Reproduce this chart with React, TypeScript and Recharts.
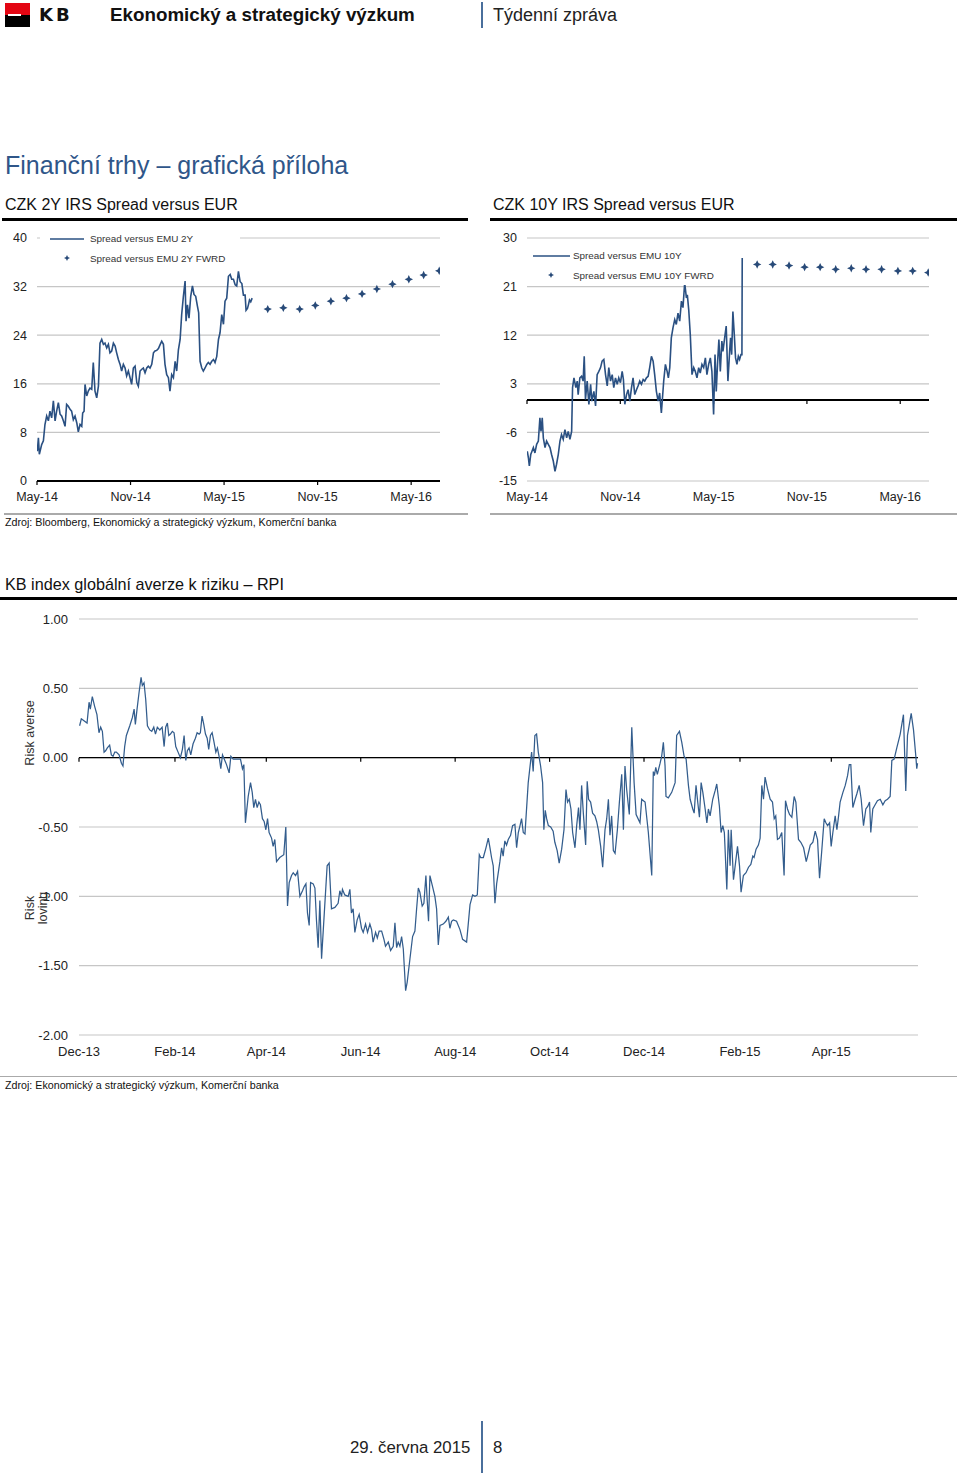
import React from 'react'
import { ComposedChart, Line, XAxis, YAxis, CartesianGrid, ReferenceLine } from 'recharts'

const FONT = '"Liberation Sans", Arial, sans-serif'
const LINE_BLUE = '#2a5082' // spread lines
const FWD_BLUE = '#284a78' // forward markers
const RPI_BLUE = '#335d8d'
const GRID = '#c6c6c6'
const TITLE_BLUE = '#2f5689'
const BAR_BLUE = '#4a6f9c'

// months since May-14
const spreadTicks = [0, 6, 12, 18, 24]
const spreadTickLabels = ['May-14', 'Nov-14', 'May-15', 'Nov-15', 'May-16']
const fwdMonths = [14.8, 15.8, 16.85, 17.85, 18.85, 19.85, 20.85, 21.8, 22.8, 23.85, 24.8, 25.8]

const spread2yTicks = [0, 8, 16, 24, 32, 40]
const spread2yFwd = [28.3, 28.5, 28.3, 28.9, 29.6, 30.1, 30.8, 31.6, 32.4, 33.2, 33.9, 34.6]
const spread2y: [number, number][] = [
  [0.02, 4.9], [0.09, 7.1], [0.15, 4.4], [0.3, 6.0], [0.41, 6.6], [0.51, 9.3], [0.62, 10.7], [0.73, 9.9],
  [0.83, 11.5], [0.94, 10.4], [1.05, 13.2], [1.16, 9.9], [1.26, 11.5], [1.37, 12.9], [1.48, 11.0], [1.58, 10.7],
  [1.69, 9.9], [1.8, 9.0], [1.9, 12.6], [2.01, 12.3], [2.12, 11.8], [2.22, 11.5], [2.33, 10.1], [2.44, 10.7],
  [2.55, 9.6], [2.65, 8.1], [2.76, 9.3], [2.87, 9.0], [2.93, 11.2], [3.02, 11.5], [3.08, 15.9], [3.19, 14.0],
  [3.29, 14.8], [3.4, 15.3], [3.51, 15.1], [3.61, 19.5], [3.72, 14.8], [3.83, 13.7], [3.94, 15.6], [4.04, 22.7],
  [4.15, 23.3], [4.26, 22.5], [4.36, 22.7], [4.47, 21.9], [4.58, 22.5], [4.68, 21.1], [4.79, 21.4], [4.9, 22.7],
  [5.01, 22.2], [5.11, 21.1], [5.22, 20.0], [5.33, 19.2], [5.43, 18.1], [5.54, 19.2], [5.65, 18.6], [5.75, 17.3],
  [5.86, 18.1], [5.97, 17.0], [6.07, 15.9], [6.18, 18.6], [6.29, 18.9], [6.4, 16.2], [6.5, 15.6], [6.61, 18.1],
  [6.72, 18.4], [6.82, 18.6], [6.93, 17.8], [7.04, 18.6], [7.14, 18.9], [7.25, 18.6], [7.36, 19.2], [7.47, 21.1],
  [7.57, 21.4], [7.68, 21.5], [7.79, 21.8], [7.89, 22.4], [8.0, 23.0], [8.11, 22.5], [8.21, 19.2], [8.32, 17.5],
  [8.43, 17.0], [8.53, 14.8], [8.64, 17.5], [8.75, 17.0], [8.86, 19.7], [8.96, 18.1], [9.07, 21.6], [9.18, 23.3],
  [9.28, 27.4], [9.39, 30.4], [9.5, 32.9], [9.56, 26.3], [9.65, 29.0], [9.75, 26.8], [9.86, 30.4], [9.97, 32.1],
  [10.07, 30.7], [10.18, 30.4], [10.29, 28.8], [10.37, 27.7], [10.46, 19.7], [10.57, 18.6], [10.67, 18.1], [10.78, 18.6],
  [10.89, 19.2], [10.99, 19.5], [11.1, 19.2], [11.21, 19.7], [11.32, 20.0], [11.42, 19.5], [11.53, 20.5], [11.64, 23.3],
  [11.74, 24.4], [11.85, 27.4], [11.96, 25.8], [12.06, 29.6], [12.17, 30.1], [12.28, 33.7], [12.39, 34.0], [12.49, 33.2],
  [12.6, 33.2], [12.71, 32.3], [12.81, 32.1], [12.92, 34.5], [13.03, 32.8], [13.14, 32.5], [13.24, 30.6], [13.35, 30.6],
  [13.41, 28.1], [13.5, 28.4], [13.56, 29.0], [13.63, 29.8], [13.71, 29.5], [13.8, 30.1],
]

const spread10yTicks = [-15, -6, 3, 12, 21, 30]
const spread10yFwd = [25.1, 25.1, 24.9, 24.6, 24.6, 24.2, 24.4, 24.2, 24.2, 23.9, 23.9, 23.6]
const spread10y: [number, number][] = [
  [0.02, -9.5], [0.09, -10.7], [0.15, -12.2], [0.24, -10.1], [0.32, -9.5], [0.41, -8.8], [0.51, -9.8], [0.62, -8.2],
  [0.73, -7.6], [0.83, -3.3], [0.9, -5.8], [0.98, -3.3], [1.05, -7.0], [1.16, -8.8], [1.26, -7.6], [1.37, -8.2],
  [1.48, -8.8], [1.58, -10.1], [1.69, -11.3], [1.8, -13.2], [1.9, -11.9], [2.01, -10.1], [2.12, -7.6], [2.22, -6.4],
  [2.33, -7.3], [2.44, -5.5], [2.55, -7.0], [2.65, -5.8], [2.76, -7.3], [2.87, -5.8], [2.93, 2.3], [3.02, 4.1],
  [3.08, 3.2], [3.14, 2.3], [3.23, 3.5], [3.29, 1.0], [3.4, 4.1], [3.51, 4.4], [3.61, 3.5], [3.68, 8.1],
  [3.76, 0.1], [3.87, 3.5], [3.98, -0.8], [4.09, 2.9], [4.17, -0.2], [4.3, 1.6], [4.41, -1.1], [4.51, 4.7],
  [4.62, 5.3], [4.73, 6.0], [4.83, 7.2], [4.94, 7.5], [5.05, 4.7], [5.16, 2.6], [5.26, 6.0], [5.37, 3.5],
  [5.48, 4.7], [5.58, 2.3], [5.69, 4.1], [5.8, 2.9], [5.9, 4.1], [6.01, 3.2], [6.12, 5.3], [6.2, 3.8],
  [6.29, -0.8], [6.4, 1.0], [6.5, 1.9], [6.61, -0.2], [6.72, 2.3], [6.82, 4.1], [6.93, 1.0], [7.04, 1.9],
  [7.14, 2.6], [7.25, 3.5], [7.36, 2.9], [7.47, 3.8], [7.57, 3.5], [7.68, 4.1], [7.79, 4.4], [7.89, 6.0],
  [8.0, 8.1], [8.11, 7.2], [8.21, 4.7], [8.32, 1.6], [8.43, -0.2], [8.53, 1.3], [8.64, -2.4], [8.75, 1.9],
  [8.79, 3.5], [8.9, 6.6], [9.01, 5.3], [9.09, 4.1], [9.18, 6.0], [9.28, 11.5], [9.39, 13.4], [9.5, 14.9],
  [9.6, 14.0], [9.71, 16.1], [9.82, 14.6], [9.93, 18.3], [10.03, 17.1], [10.14, 21.7], [10.25, 18.9], [10.31, 19.5],
  [10.4, 16.7], [10.5, 12.1], [10.61, 4.7], [10.72, 6.0], [10.82, 5.3], [10.93, 4.1], [11.04, 6.0], [11.14, 5.0],
  [11.25, 6.6], [11.36, 6.0], [11.47, 7.8], [11.57, 4.7], [11.68, 6.6], [11.79, 7.8], [11.89, 5.3], [12.0, -2.7],
  [12.09, 8.4], [12.17, 1.6], [12.26, 7.2], [12.34, 11.2], [12.43, 5.3], [12.53, 10.9], [12.6, 9.0], [12.71, 11.5],
  [12.81, 13.7], [12.92, 3.5], [13.03, 9.0], [13.09, 11.5], [13.16, 8.4], [13.24, 16.4], [13.33, 12.1], [13.41, 7.8],
  [13.5, 6.6], [13.59, 8.1], [13.67, 7.5], [13.76, 8.4], [13.82, 8.4], [13.84, 26.3],
]

// days since 1 Dec 2013
const rpiTicks = [0, 62, 121, 182, 243, 304, 365, 427, 486]
const rpiTickLabels = ['Dec-13', 'Feb-14', 'Apr-14', 'Jun-14', 'Aug-14', 'Oct-14', 'Dec-14', 'Feb-15', 'Apr-15']
const rpiYTicks = [-2, -1.5, -1, -0.5, 0, 0.5, 1]
const rpi: [number, number][] = [
  [0.4, 0.23], [1.5, 0.28], [5.2, 0.25], [6.5, 0.4], [7.3, 0.35], [8.6, 0.44], [10.1, 0.37], [11.6, 0.31],
  [12.9, 0.18], [14.0, 0.22], [15.1, 0.19], [16.2, 0.04], [17.2, 0.05], [18.3, 0.07], [19.8, 0.09], [20.9, 0.02],
  [22.0, 0.01], [23.1, 0.04], [24.1, 0.04], [25.9, 0.02], [27.4, -0.04], [28.4, -0.06], [29.5, 0.08], [30.6, 0.16],
  [32.8, 0.23], [34.5, 0.29], [35.6, 0.35], [36.4, 0.24], [37.5, 0.35], [38.8, 0.47], [40.1, 0.58], [40.9, 0.52],
  [42.0, 0.54], [43.1, 0.42], [44.2, 0.23], [45.7, 0.2], [47.0, 0.19], [48.3, 0.22], [49.4, 0.17], [50.6, 0.22],
  [52.2, 0.2], [53.7, 0.22], [55.0, 0.08], [56.0, 0.22], [57.1, 0.25], [58.0, 0.16], [59.1, 0.17], [60.3, 0.19],
  [61.4, 0.18], [62.5, 0.08], [64.0, 0.04], [65.5, 0.0], [66.8, 0.06], [67.9, 0.16], [69.0, -0.02], [70.0, 0.05],
  [71.1, 0.07], [72.2, 0.02], [73.7, 0.1], [75.2, 0.14], [76.3, 0.18], [77.6, 0.17], [78.4, 0.18], [79.5, 0.3],
  [80.6, 0.24], [81.7, 0.17], [82.8, 0.14], [83.8, 0.06], [84.9, 0.16], [86.0, 0.18], [87.1, 0.12], [88.4, 0.04],
  [89.4, 0.07], [90.5, 0.01], [91.6, -0.08], [92.7, 0.02], [93.8, -0.01], [95.3, -0.05], [97.0, -0.11], [98.1, 0.01],
  [99.6, -0.01], [101.7, -0.01], [103.4, -0.01], [104.3, -0.01], [105.6, -0.08], [106.5, -0.05], [107.5, -0.47], [109.3, -0.28],
  [110.8, -0.18], [111.9, -0.25], [112.9, -0.36], [114.0, -0.3], [115.1, -0.36], [116.2, -0.32], [117.2, -0.34], [118.5, -0.44],
  [119.6, -0.46], [120.7, -0.52], [121.8, -0.44], [122.8, -0.54], [124.4, -0.58], [125.4, -0.64], [126.5, -0.59], [127.6, -0.75],
  [129.7, -0.72], [132.3, -0.7], [133.6, -0.5], [134.7, -1.07], [135.8, -0.9], [137.3, -0.85], [138.4, -0.83], [139.9, -0.85],
  [141.2, -0.82], [142.7, -1.0], [144.4, -0.96], [145.5, -0.93], [146.6, -0.91], [147.6, -1.12], [148.7, -1.21], [149.6, -0.9],
  [151.3, -0.91], [152.4, -0.94], [153.4, -1.17], [154.5, -1.37], [155.6, -1.03], [156.7, -1.45], [158.2, -1.17], [160.3, -0.78],
  [161.6, -0.76], [163.1, -1.09], [165.3, -1.08], [167.4, -1.05], [168.5, -0.96], [169.6, -1.0], [170.2, -0.95], [171.7, -0.99],
  [173.9, -1.0], [175.0, -0.95], [176.0, -1.12], [177.1, -1.09], [178.2, -1.26], [179.7, -1.17], [181.0, -1.13], [182.5, -1.23],
  [183.6, -1.26], [185.1, -1.2], [186.4, -1.26], [187.9, -1.2], [189.0, -1.24], [190.0, -1.33], [191.6, -1.26], [192.7, -1.3],
  [193.9, -1.25], [195.5, -1.25], [197.0, -1.31], [198.0, -1.36], [199.8, -1.33], [201.3, -1.39], [203.0, -1.36], [204.1, -1.19],
  [205.2, -1.37], [206.2, -1.33], [207.3, -1.36], [208.4, -1.29], [209.5, -1.38], [211.0, -1.68], [212.0, -1.62], [213.8, -1.45],
  [215.5, -1.29], [217.0, -1.25], [218.1, -1.09], [219.2, -0.94], [220.2, -0.97], [221.7, -1.07], [222.8, -1.05], [224.1, -0.85],
  [224.9, -1.02], [225.8, -1.18], [226.7, -0.85], [228.4, -0.93], [229.9, -1.0], [231.0, -1.09], [232.1, -1.35], [233.2, -1.21],
  [235.3, -1.2], [237.0, -1.18], [238.6, -1.15], [239.6, -1.23], [240.7, -1.18], [241.8, -1.17], [243.9, -1.18], [246.1, -1.24],
  [247.8, -1.31], [250.4, -1.33], [252.6, -1.06], [254.3, -0.99], [255.8, -1.0], [257.3, -0.99], [258.6, -0.7], [259.5, -0.72],
  [261.2, -0.72], [262.9, -0.65], [264.4, -0.58], [265.5, -0.65], [266.5, -0.72], [267.6, -0.78], [268.7, -1.05], [269.8, -0.91],
  [271.9, -0.75], [273.0, -0.65], [274.0, -0.71], [275.1, -0.6], [276.2, -0.63], [277.3, -0.59], [278.8, -0.56], [280.1, -0.49],
  [281.6, -0.48], [282.7, -0.65], [283.8, -0.54], [284.9, -0.49], [285.9, -0.44], [287.0, -0.54], [288.1, -0.55], [290.2, -0.18],
  [291.3, -0.07], [292.4, 0.04], [293.4, -0.1], [294.5, 0.16], [295.6, 0.17], [296.7, 0.04], [298.2, -0.06], [299.5, -0.18],
  [300.3, -0.52], [301.2, -0.38], [302.1, -0.44], [303.2, -0.49], [304.7, -0.5], [306.3, -0.53], [307.4, -0.61], [308.9, -0.67],
  [310.2, -0.76], [311.8, -0.66], [313.3, -0.52], [314.6, -0.23], [315.6, -0.32], [316.7, -0.3], [317.8, -0.37], [318.9, -0.54],
  [320.4, -0.65], [321.5, -0.49], [322.7, -0.36], [323.6, -0.52], [324.7, -0.2], [325.8, -0.4], [327.3, -0.63], [328.3, -0.17],
  [329.2, -0.3], [330.5, -0.32], [331.8, -0.4], [333.3, -0.42], [334.4, -0.46], [335.5, -0.52], [337.0, -0.64], [338.3, -0.79],
  [339.8, -0.52], [340.9, -0.44], [342.0, -0.3], [343.0, -0.56], [344.1, -0.42], [345.2, -0.67], [346.3, -0.69], [347.8, -0.52],
  [349.1, -0.32], [350.6, -0.12], [351.7, -0.52], [352.7, -0.06], [353.8, -0.23], [355.5, -0.41], [357.1, 0.22], [358.6, -0.18],
  [359.9, -0.41], [362.4, -0.47], [363.5, -0.3], [364.6, -0.31], [365.7, -0.32], [367.8, -0.54], [370.0, -0.85], [371.0, -0.1],
  [371.7, -0.13], [372.6, -0.07], [373.6, -0.12], [375.4, -0.04], [376.4, 0.01], [377.5, 0.11], [378.6, -0.06], [379.2, -0.28],
  [380.7, -0.29], [382.9, -0.25], [385.1, -0.18], [386.1, 0.16], [387.9, 0.19], [389.4, 0.11], [390.9, 0.01], [392.2, -0.01],
  [393.7, -0.2], [394.8, -0.3], [396.5, -0.37], [397.4, -0.4], [398.6, -0.2], [399.7, -0.32], [400.8, -0.43], [401.9, -0.18],
  [403.0, -0.25], [404.5, -0.37], [405.6, -0.47], [406.6, -0.37], [407.7, -0.42], [409.4, -0.3], [410.9, -0.24], [412.0, -0.19],
  [413.7, -0.35], [414.8, -0.54], [415.9, -0.49], [416.9, -0.54], [418.5, -0.95], [419.5, -0.52], [420.6, -0.78], [421.3, -0.52],
  [422.8, -0.88], [424.1, -0.76], [425.4, -0.64], [426.7, -0.78], [427.7, -0.97], [429.2, -0.85], [430.9, -0.83], [432.5, -0.79],
  [434.0, -0.77], [435.3, -0.71], [436.1, -0.72], [437.4, -0.66], [438.9, -0.63], [440.0, -0.58], [441.1, -0.2], [442.2, -0.3],
  [443.2, -0.14], [444.7, -0.22], [446.5, -0.3], [448.0, -0.32], [449.1, -0.44], [450.1, -0.42], [451.2, -0.59], [452.5, -0.58],
  [454.0, -0.54], [455.5, -0.85], [456.4, -0.31], [457.7, -0.37], [459.0, -0.41], [460.5, -0.43], [462.0, -0.28], [463.1, -0.32],
  [464.8, -0.59], [466.3, -0.61], [468.1, -0.65], [469.8, -0.75], [470.9, -0.7], [472.4, -0.63], [474.1, -0.61], [475.6, -0.53],
  [477.1, -0.59], [478.4, -0.87], [479.9, -0.66], [481.4, -0.44], [482.5, -0.47], [483.6, -0.49], [484.9, -0.47], [485.9, -0.64],
  [487.0, -0.54], [488.5, -0.42], [489.6, -0.52], [490.7, -0.42], [491.7, -0.32], [493.5, -0.25], [495.0, -0.2], [496.5, -0.13],
  [497.6, -0.05], [498.6, -0.05], [499.9, -0.36], [501.4, -0.3], [502.5, -0.26], [504.0, -0.2], [505.3, -0.3], [506.8, -0.49],
  [508.3, -0.37], [509.6, -0.35], [510.7, -0.32], [511.5, -0.54], [512.8, -0.37], [514.3, -0.34], [515.8, -0.31], [517.6, -0.3],
  [519.3, -0.34], [520.8, -0.31], [522.3, -0.3], [524.0, -0.28], [525.1, -0.02], [526.6, -0.01], [528.3, 0.07], [530.5, 0.17],
  [532.6, 0.31], [534.1, -0.24], [535.2, 0.16], [537.6, 0.32], [539.1, 0.2], [540.6, 0.01], [541.2, -0.08], [541.7, -0.04],
]

const tickStyle = { fontSize: 12.5, fill: '#222' }

function starPath(cx: number, cy: number, r: number) {
  const i = r * 0.32
  return `M${cx},${cy - r}L${cx + i},${cy - i}L${cx + r},${cy}L${cx + i},${cy + i}L${cx},${cy + r}L${cx - i},${cy + i}L${cx - r},${cy}L${cx - i},${cy - i}Z`
}

function Text({ left, top, size, children, style }: any) {
  return (
    <div style={{ position: 'absolute', left, top, fontSize: size, lineHeight: `${Math.round(size * 1.25)}px`, whiteSpace: 'nowrap', color: '#111', ...style }}>
      {children}
    </div>
  )
}

function Rule({ left, top, width, height, color }: any) {
  return <div style={{ position: 'absolute', left, top, width, height, background: color }} />
}

function SpreadChart({ line, fwd, yTicks, yWidth, width, marginRight, zeroInside }: any) {
  const lineData = line.map(([m, v]: [number, number]) => ({ m, v }))
  const fwdData = fwdMonths.map((m, i) => ({ m, v: fwd[i] }))
  return (
    <ComposedChart width={width} height={290} margin={{ top: 13, right: marginRight, bottom: 0, left: 0 }}>
      <CartesianGrid vertical={false} stroke={GRID} strokeWidth={1.2} />
      <XAxis
        type="number"
        dataKey="m"
        domain={[0, 25.85]}
        ticks={spreadTicks}
        interval={0}
        allowDataOverflow
        height={34}
        tick={tickStyle}
        tickFormatter={(v: number) => spreadTickLabels[spreadTicks.indexOf(v)]}
        axisLine={zeroInside ? false : { stroke: '#000', strokeWidth: 2 }}
        tickLine={zeroInside ? false : { stroke: '#000', strokeWidth: 1.2 }}
        tickSize={zeroInside ? 0 : 4}
        tickMargin={zeroInside ? 11 : 7}
      />
      <YAxis
        type="number"
        domain={[yTicks[0], yTicks[yTicks.length - 1]]}
        ticks={yTicks}
        interval={0}
        width={yWidth}
        tick={tickStyle}
        axisLine={false}
        tickLine={false}
        tickSize={0}
        tickMargin={10}
      />
      {zeroInside && <ReferenceLine y={0} stroke="#000" strokeWidth={2} />}
      {zeroInside &&
        spreadTicks.map((t) => (
          <ReferenceLine key={t} segment={[{ x: t, y: 0 }, { x: t, y: -0.75 }]} stroke="#000" strokeWidth={1.2} />
        ))}
      <Line data={lineData} dataKey="v" type="linear" stroke={LINE_BLUE} strokeWidth={1.6} dot={false} isAnimationActive={false} />
      <Line
        data={fwdData}
        dataKey="v"
        stroke="none"
        isAnimationActive={false}
        dot={(p: any) => <path key={`fwd-${p.index}`} d={starPath(p.cx, p.cy, 4.2)} fill={FWD_BLUE} />}
      />
    </ComposedChart>
  )
}

function LegendBox({ left, top, lineLabel, fwdLabel, lineStart, lineEnd, starX, textX }: any) {
  return (
    <svg style={{ position: 'absolute', left, top, background: '#fff' }} width={200} height={38}>
      <line x1={lineStart} y1={9} x2={lineEnd} y2={9} stroke={LINE_BLUE} strokeWidth={1.5} />
      <text x={textX} y={9} dy="0.35em" fontSize={9.9} fill="#333">{lineLabel}</text>
      <path d={starPath(starX, 28, 3)} fill={FWD_BLUE} />
      <text x={textX} y={29} dy="0.35em" fontSize={9.9} fill="#333">{fwdLabel}</text>
    </svg>
  )
}

function RpiChart() {
  const data = rpi.map(([d, v]) => ({ d, v }))
  return (
    <ComposedChart width={960} height={470} data={data} margin={{ top: 14, right: 42, bottom: 0, left: 0 }}>
      <CartesianGrid vertical={false} stroke={GRID} strokeWidth={1.2} />
      <XAxis
        type="number"
        dataKey="d"
        domain={[0, 542]}
        ticks={rpiTicks}
        interval={0}
        height={40}
        tick={{ fontSize: 13, fill: '#222' }}
        tickFormatter={(v: number) => rpiTickLabels[rpiTicks.indexOf(v)]}
        axisLine={false}
        tickLine={false}
        tickSize={0}
        tickMargin={12}
      />
      <YAxis
        type="number"
        domain={[-2, 1]}
        ticks={rpiYTicks}
        interval={0}
        width={79}
        tick={{ fontSize: 13, fill: '#222' }}
        tickFormatter={(v: number) => v.toFixed(2)}
        axisLine={false}
        tickLine={false}
        tickSize={0}
        tickMargin={11}
      />
      <ReferenceLine y={0} stroke="#000" strokeWidth={1.3} />
      {rpiTicks.map((t) => (
        <ReferenceLine key={t} segment={[{ x: t, y: 0 }, { x: t, y: -0.03 }]} stroke="#000" strokeWidth={1.2} />
      ))}
      <Line dataKey="v" type="linear" stroke={RPI_BLUE} strokeWidth={1.25} dot={false} isAnimationActive={false} />
    </ComposedChart>
  )
}

export default function App() {
  return (
    <div style={{ position: 'absolute', left: 0, top: 0, width: 960, height: 1475, background: '#fff', fontFamily: FONT, overflow: 'hidden' }}>
      {/* header */}
      <div style={{ position: 'absolute', left: 5, top: 3, width: 25, height: 12, background: '#e30613' }} />
      <div style={{ position: 'absolute', left: 5, top: 15, width: 25, height: 12, background: '#000' }} />
      <div style={{ position: 'absolute', left: 8, top: 14, width: 13, height: 2, background: '#fff' }} />
      <Text left={39} top={3} size={18} style={{ fontWeight: 700, letterSpacing: 3, fontFamily: '"DejaVu Sans", sans-serif' }}>KB</Text>
      <Text left={110} top={3} size={18.8} style={{ fontWeight: 700 }}>Ekonomický a strategický výzkum</Text>
      <Rule left={481} top={2} width={2} height={26} color={BAR_BLUE} />
      <Text left={493} top={4} size={18} style={{ color: '#222' }}>Týdenní zpráva</Text>

      <Text left={5} top={150} size={25} style={{ color: TITLE_BLUE }}>Finanční trhy – grafická příloha</Text>

      {/* spread charts */}
      <Text left={5} top={195} size={16}>CZK 2Y IRS Spread versus EUR</Text>
      <Rule left={2} top={217.5} width={466} height={3} color="#000" />
      <Text left={493} top={195} size={16}>CZK 10Y IRS Spread versus EUR</Text>
      <Rule left={490} top={217.5} width={467} height={3} color="#000" />

      <div style={{ position: 'absolute', left: 0, top: 225 }}>
        <SpreadChart line={spread2y} fwd={spread2yFwd} yTicks={spread2yTicks} yWidth={37} width={470} marginRight={30} zeroInside={false} />
      </div>
      <LegendBox left={40} top={230} lineStart={10} lineEnd={44} starX={27} textX={50}
        lineLabel="Spread versus EMU 2Y" fwdLabel="Spread versus EMU 2Y FWRD" />

      <div style={{ position: 'absolute', left: 480, top: 225 }}>
        <SpreadChart line={spread10y} fwd={spread10yFwd} yTicks={spread10yTicks} yWidth={47} width={480} marginRight={31} zeroInside />
      </div>
      <LegendBox left={528} top={247} lineStart={5} lineEnd={42} starX={23} textX={45}
        lineLabel="Spread versus EMU 10Y" fwdLabel="Spread versus EMU 10Y FWRD" />

      <Rule left={4} top={513} width={464} height={1.5} color="#aaa" />
      <Rule left={490} top={513} width={467} height={1.5} color="#aaa" />
      <Text left={5} top={516} size={10.7}>Zdroj: Bloomberg, Ekonomický a strategický výzkum, Komerční banka</Text>

      {/* RPI */}
      <Text left={5} top={574} size={16.2}>KB index globální averze k riziku – RPI</Text>
      <Rule left={0} top={596.5} width={957} height={3} color="#000" />
      <div style={{ position: 'absolute', left: 0, top: 605 }}>
        <RpiChart />
      </div>
      <div style={{ position: 'absolute', left: 30, top: 733, width: 0, height: 0 }}>
        <div style={{ position: 'absolute', transform: 'translate(-50%, -50%) rotate(-90deg)', fontSize: 12.5, color: '#333', whiteSpace: 'nowrap' }}>Risk averse</div>
      </div>
      <div style={{ position: 'absolute', left: 37, top: 908, width: 0, height: 0 }}>
        <div style={{ position: 'absolute', transform: 'translate(-50%, -50%) rotate(-90deg)', fontSize: 12.5, lineHeight: '13px', color: '#333', textAlign: 'center', whiteSpace: 'nowrap' }}>
          Risk<br />loving
        </div>
      </div>
      <Rule left={0} top={1075.5} width={957} height={1.5} color="#aaa" />
      <Text left={5} top={1079} size={10.7}>Zdroj: Ekonomický a strategický výzkum, Komerční banka</Text>

      {/* footer */}
      <Text left={350} top={1437} size={16.8} style={{ color: '#222' }}>29. června 2015</Text>
      <Rule left={481} top={1421} width={2} height={52} color={BAR_BLUE} />
      <Text left={493} top={1437} size={16.8} style={{ color: '#222' }}>8</Text>
    </div>
  )
}
